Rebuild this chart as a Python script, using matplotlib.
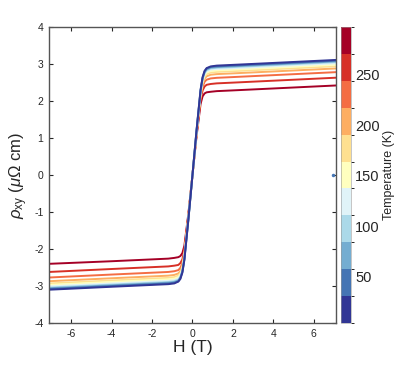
import numpy as np
import matplotlib
matplotlib.use("Agg")
import matplotlib.pyplot as plt
from matplotlib.colors import BoundaryNorm

plt.rcParams['font.family'] = ['Liberation Sans', 'DejaVu Sans']
plt.rcParams['mathtext.fontset'] = 'custom'
plt.rcParams['mathtext.rm'] = 'Liberation Sans'
plt.rcParams['mathtext.it'] = 'Liberation Sans:italic'
plt.rcParams['axes.unicode_minus'] = False

# field sweep (T)
field = [-7.1, -4, -2, -1.2, -0.9, -0.7, -0.6, -0.5, -0.4, -0.2, 0,
         0.2, 0.4, 0.5, 0.6, 0.7, 0.9, 1.2, 2, 4, 7.1]

# temperatures (K), one curve each
temps = [10, 40, 70, 100, 125, 150, 180, 205, 230, 260, 290]

# rho_xy (uOhm cm), one row per temperature
rho = [
    [-3.10, -3.02, -2.97, -2.95, -2.93, -2.88, -2.81, -2.64, -2.29, -1.19, 0.0,
     1.20, 2.30, 2.645, 2.815, 2.89, 2.935, 2.957, 2.977, 3.029, 3.11],
    [-3.08, -3.00, -2.95, -2.93, -2.91, -2.87, -2.79, -2.62, -2.28, -1.19, 0.0,
     1.20, 2.295, 2.63, 2.80, 2.875, 2.92, 2.937, 2.957, 3.009, 3.09],
    [-3.06, -2.98, -2.93, -2.91, -2.89, -2.85, -2.77, -2.60, -2.25, -1.17, 0.0,
     1.18, 2.263, 2.605, 2.775, 2.853, 2.90, 2.917, 2.937, 2.989, 3.07],
    [-3.04, -2.96, -2.91, -2.89, -2.87, -2.83, -2.75, -2.59, -2.25, -1.17, 0.0,
     1.18, 2.256, 2.594, 2.761, 2.834, 2.88, 2.897, 2.917, 2.969, 3.05],
    [-3.01, -2.93, -2.88, -2.86, -2.84, -2.80, -2.72, -2.55, -2.21, -1.15, 0.0,
     1.16, 2.224, 2.561, 2.727, 2.804, 2.85, 2.867, 2.887, 2.939, 3.02],
    [-2.97, -2.89, -2.84, -2.82, -2.80, -2.76, -2.69, -2.54, -2.21, -1.15, 0.0,
     1.16, 2.217, 2.545, 2.70, 2.767, 2.81, 2.827, 2.847, 2.899, 2.98],
    [-2.93, -2.85, -2.80, -2.78, -2.76, -2.72, -2.65, -2.50, -2.17, -1.13, 0.0,
     1.14, 2.181, 2.503, 2.658, 2.728, 2.77, 2.787, 2.807, 2.859, 2.94],
    [-2.87, -2.79, -2.74, -2.72, -2.70, -2.66, -2.60, -2.45, -2.13, -1.11, 0.0,
     1.12, 2.139, 2.454, 2.606, 2.669, 2.71, 2.727, 2.747, 2.799, 2.88],
    [-2.77, -2.69, -2.64, -2.62, -2.60, -2.57, -2.51, -2.38, -2.08, -1.09, 0.0,
     1.10, 2.092, 2.385, 2.521, 2.576, 2.61, 2.627, 2.647, 2.699, 2.78],
    [-2.62, -2.54, -2.49, -2.47, -2.45, -2.43, -2.38, -2.28, -2.02, -1.07, 0.0,
     1.08, 2.029, 2.285, 2.393, 2.438, 2.46, 2.477, 2.497, 2.549, 2.63],
    [-2.40, -2.33, -2.28, -2.26, -2.24, -2.22, -2.19, -2.11, -1.91, -1.03, 0.0,
     1.04, 1.92, 2.126, 2.206, 2.235, 2.25, 2.267, 2.287, 2.339, 2.42],
]

# one stray point near the right edge
stray_h = [6.95]
stray_rho = [0.0]

cb_ticks = [50, 100, 150, 200, 250]
t_min, t_max = 4.5, 297

cmap = plt.get_cmap('RdYlBu_r', 11)
norm = BoundaryNorm(np.linspace(t_min, t_max, 12), cmap.N)

fig = plt.figure(figsize=(3.99, 3.65), dpi=100)
ax = fig.add_axes([0.1228, 0.115, 0.7192, 0.811])
cax = fig.add_axes([0.8546, 0.115, 0.025, 0.811])

axcol = '#262626'
for t, r in sorted(zip(temps, rho), reverse=True):
    ax.plot(field, r, color=cmap(norm(t)), lw=1.4, solid_joinstyle='round')
ax.plot(stray_h, stray_rho, 'o', ms=2.5, color=cmap(norm(40)), mec='none')

ax.set_xlim(-7.1, 7.1)
ax.set_ylim(-4, 4)
ax.set_xticks([-6, -4, -2, 0, 2, 4, 6])
ax.set_yticks(np.arange(-4, 5, 1))
ax.tick_params(direction='in', top=True, right=True, length=3, width=0.8,
               labelsize=7.5, colors=axcol, pad=4)
for s in ax.spines.values():
    s.set_color('#555555')
    s.set_linewidth(1.0)
ax.set_xlabel('H (T)', fontsize=12.5, color=axcol, labelpad=1)
ax.set_ylabel(r'$\rho_{\rm xy}$ ($\mu\Omega$ cm)', fontsize=12, color=axcol, labelpad=3)

sm = plt.cm.ScalarMappable(norm=norm, cmap=cmap)
cb = fig.colorbar(sm, cax=cax, ticks=cb_ticks)
cb.outline.set_linewidth(0.4)
cb.outline.set_edgecolor('#999999')
cax.tick_params(length=0, labelsize=10.5, colors=axcol, pad=3)
cb.set_label('Temperature (K)', fontsize=9, color=axcol, labelpad=2)

fig.savefig('out.png', dpi=100)
